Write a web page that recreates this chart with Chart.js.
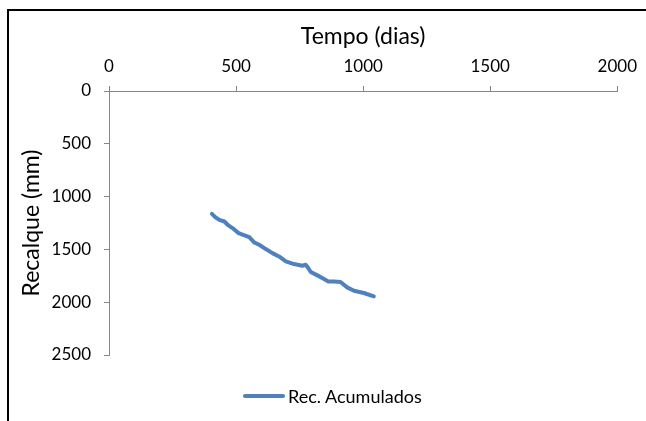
<!DOCTYPE html>
<html>
<head>
<meta charset="utf-8">
<script src="https://cdn.jsdelivr.net/npm/chart.js@4"></script>
<style>
  body { margin: 0; background: #fff; }
  #wrap { position: relative; width: 646px; height: 421px; overflow: hidden; }
  #frame { position: absolute; left: 7px; top: 9px; width: 700px; height: 500px; border: 2px solid #000; }
  #chart { position: absolute; left: 0; top: 0; }
  #legend { position: absolute; left: 243px; top: 384px; height: 24px; display: flex; align-items: center;
            font-family: Lato, sans-serif; font-size: 18px; color: #000; }
  #legend span.swatch { display: inline-block; width: 42px; height: 4px; background: #4F81BD; border-radius: 2px; margin-right: 3px; }
</style>
</head>
<body>
<div id="wrap">
  <div id="frame"></div>
  <canvas id="chart" width="646" height="421"></canvas>
  <div id="legend"><span class="swatch"></span><span id="legend-text"></span></div>
</div>
<script>
// Tempo (dias) x Recalque (mm)
const seriesName = 'Rec. Acumulados';
const days = [405, 418, 434, 454, 467, 486, 510, 525, 552, 571, 591, 617, 643, 669, 696,
              728, 761, 774, 784, 794, 820, 839, 863, 885, 911, 937, 964, 1003, 1042];
const settlement = [1163, 1194, 1220, 1236, 1267, 1298, 1346, 1359, 1383, 1434, 1456, 1497, 1535, 1567, 1614,
                    1639, 1655, 1645, 1676, 1714, 1746, 1771, 1803, 1803, 1809, 1860, 1891, 1913, 1945];
const xTitle = 'Tempo (dias)';
const yTitle = 'Recalque (mm)';

document.getElementById('legend-text').innerText = seriesName;

const axisGray = '#868686';
const fontFamily = 'Lato, sans-serif';

const ctx = document.getElementById('chart').getContext('2d');
const chart = new Chart(ctx, {
    type: 'scatter',
    data: {
        datasets: [{
            label: seriesName,
            data: days.map((d, i) => ({ x: d, y: settlement[i] })),
            showLine: true,
            borderColor: '#4F81BD',
            backgroundColor: '#4F81BD',
            borderWidth: 4,
            pointRadius: 0,
            borderCapStyle: 'round',
            borderJoinStyle: 'round'
        }]
    },
    options: {
        responsive: false,
        animation: false,
        layout: {
            padding: { left: 0, top: 0, right: 27, bottom: 66 }
        },
        plugins: {
            legend: { display: false },
            tooltip: { enabled: false }
        },
        scales: {
            x: {
                type: 'linear',
                position: 'top',
                min: 0,
                max: 2000,
                afterFit: s => { s.height = 91; },
                ticks: {
                    stepSize: 500,
                    padding: 9,
                    color: '#000',
                    font: { family: fontFamily, size: 17 },
                    callback: v => String(v)
                },
                grid: {
                    drawOnChartArea: false,
                    drawTicks: true,
                    tickLength: 5,
                    color: axisGray
                },
                border: { color: axisGray, width: 1 },
                title: {
                    display: true,
                    text: xTitle,
                    color: '#000',
                    font: { family: fontFamily, size: 23 },
                    padding: { top: 23, bottom: 0 }
                }
            },
            y: {
                type: 'linear',
                reverse: true,
                min: 0,
                max: 2500,
                afterFit: s => { s.width = 109; },
                ticks: {
                    stepSize: 500,
                    padding: 13,
                    color: '#000',
                    font: { family: fontFamily, size: 17 },
                    callback: v => String(v)
                },
                grid: {
                    drawOnChartArea: false,
                    drawTicks: true,
                    tickLength: 5,
                    color: axisGray
                },
                border: { color: axisGray, width: 1 },
                title: {
                    display: true,
                    text: yTitle,
                    color: '#000',
                    font: { family: fontFamily, size: 23 },
                    padding: { top: 18, bottom: 0 }
                }
            }
        }
    }
});
</script>
</body>
</html>
